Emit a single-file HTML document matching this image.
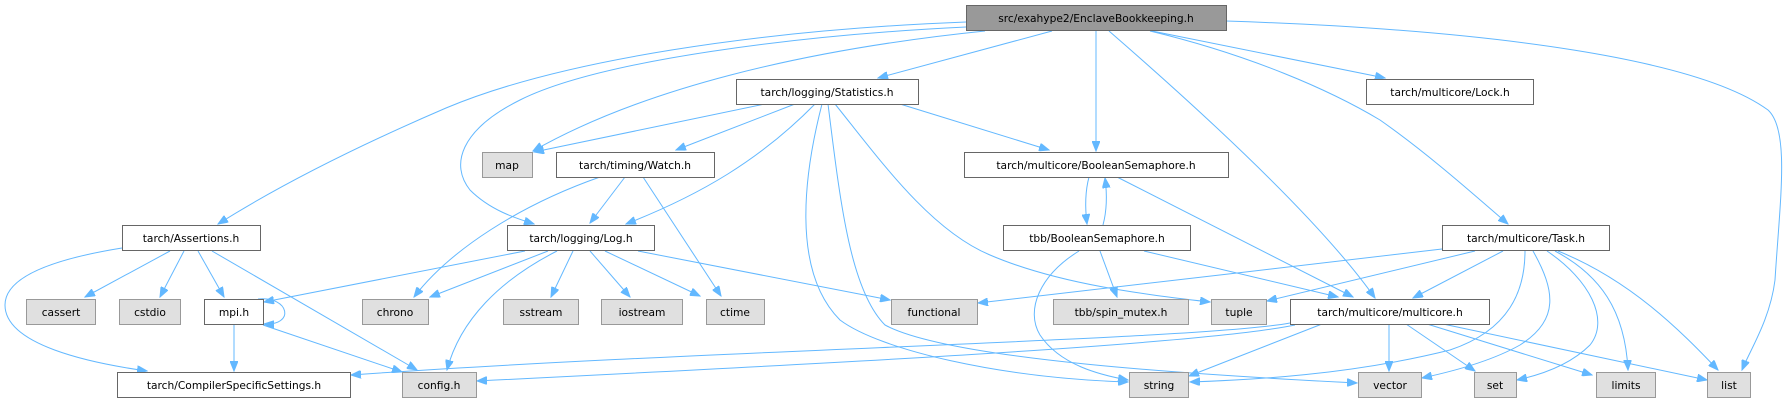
<!DOCTYPE html>
<html><head><meta charset="utf-8"><style>
html,body{margin:0;padding:0;background:#fff;}
svg{display:block;}
text{font-family:"DejaVu Sans","Liberation Sans",sans-serif;font-size:10.67px;fill:#000;text-anchor:middle;}
.e{fill:none;stroke:#63b8ff;stroke-width:1;marker-end:url(#a);}
.w{fill:#fff;stroke:#666;stroke-width:1;}
.g{fill:#e0e0e0;stroke:#999;stroke-width:1;}
.r{fill:#999;stroke:#666;stroke-width:1;}
</style></head><body>
<svg width="1784" height="403" viewBox="0 0 1784 403" xmlns="http://www.w3.org/2000/svg">
<defs><marker id="a" markerWidth="11" markerHeight="8" refX="10" refY="4" orient="auto" markerUnits="userSpaceOnUse"><path d="M0,0 L10,4 L0,8 z" fill="#63b8ff" stroke="#63b8ff"/></marker></defs>
<!-- edges -->
<path class="e" d="M966,22 C760,30 560,60 446,108 C360,145 280,185 218,224"/>
<path class="e" d="M966,27 C800,35 600,60 520,100 C460,130 450,165 470,190 C490,210 515,218 534,224"/>
<path class="e" d="M985,31 C800,50 640,90 533,151"/>
<path class="e" d="M1052,31 L878,78"/>
<path class="e" d="M1096,31 L1096,151"/>
<path class="e" d="M1109,31 C1200,110 1320,220 1375,298"/>
<path class="e" d="M1152,31 L1385,78"/>
<path class="e" d="M1150,31 C1250,55 1330,90 1380,120 C1430,155 1480,200 1508,224"/>
<path class="e" d="M1226,21 C1500,30 1700,60 1768,110 C1790,130 1780,200 1775,280 C1770,320 1750,350 1742,370"/>
<path class="e" d="M765,104 L534,152"/>
<path class="e" d="M795,104 L676,150"/>
<path class="e" d="M815,104 C760,160 700,195 626,224"/>
<path class="e" d="M822,104 C805,170 790,270 840,320 C880,350 1000,378 1128,382"/>
<path class="e" d="M828,104 C840,200 850,290 885,325 C950,360 1200,375 1357,383"/>
<path class="e" d="M835,104 C880,160 930,230 990,255 C1060,285 1150,295 1210,302"/>
<path class="e" d="M900,104 L1049,150"/>
<path class="e" d="M625,177 L590,223"/>
<path class="e" d="M600,177 C520,205 450,250 414,297"/>
<path class="e" d="M643,177 L721,296"/>
<path class="e" d="M1089,177 C1085,192 1085,208 1087,224"/>
<path class="e" d="M1103,225 C1107,210 1107,193 1105,178"/>
<path class="e" d="M1117,177 L1353,297"/>
<path class="e" d="M1079,251 C1040,275 1025,310 1040,335 C1060,365 1100,375 1128,380"/>
<path class="e" d="M1100,251 L1117,297"/>
<path class="e" d="M1144,251 L1338,297"/>
<path class="e" d="M525,251 L264,302"/>
<path class="e" d="M548,251 L430,297"/>
<path class="e" d="M557,251 C500,280 460,320 447,370"/>
<path class="e" d="M573,251 L551,297"/>
<path class="e" d="M590,251 L630,297"/>
<path class="e" d="M605,251 L700,296"/>
<path class="e" d="M638,251 L890,300"/>
<path class="e" d="M122,248 C60,258 5,275 5,305 C5,345 90,363 147,371"/>
<path class="e" d="M170,251 L85,297"/>
<path class="e" d="M184,251 L160,297"/>
<path class="e" d="M198,251 L224,297"/>
<path class="e" d="M212,251 L417,370"/>
<path class="e" d="M258,299 C290,296 295,326 264,324"/>
<path class="e" d="M234,324 L234,371"/>
<path class="e" d="M263,325 L402,372"/>
<path class="e" d="M1290,323 C1200,340 700,350 351,375"/>
<path class="e" d="M1295,325 C1200,345 800,365 477,381"/>
<path class="e" d="M1322,324 L1189,376"/>
<path class="e" d="M1389,324 L1389,371"/>
<path class="e" d="M1406,324 L1475,371"/>
<path class="e" d="M1427,324 L1592,375"/>
<path class="e" d="M1443,324 L1707,380"/>
<path class="e" d="M1442,249 C1300,265 1100,290 978,303"/>
<path class="e" d="M1475,251 L1267,301"/>
<path class="e" d="M1503,251 L1413,298"/>
<path class="e" d="M1525,251 C1525,290 1510,330 1450,350 C1350,375 1250,380 1190,382"/>
<path class="e" d="M1533,251 C1555,290 1560,320 1520,345 C1490,362 1450,372 1422,378"/>
<path class="e" d="M1547,251 C1590,280 1610,320 1590,345 C1570,365 1540,375 1517,380"/>
<path class="e" d="M1555,251 C1600,275 1625,310 1628,370"/>
<path class="e" d="M1558,251 C1630,280 1680,330 1718,370"/>
<!-- nodes -->
<rect class="r" x="966.5" y="5.5" width="260" height="25"/><text x="1096" y="22">src/exahype2/EnclaveBookkeeping.h</text>
<rect class="w" x="736.5" y="79.5" width="182" height="25"/><text x="827" y="96">tarch/logging/Statistics.h</text>
<rect class="w" x="1366.5" y="79.5" width="167" height="25"/><text x="1450" y="96">tarch/multicore/Lock.h</text>
<rect class="g" x="482.5" y="152.5" width="50" height="25"/><text x="507" y="169">map</text>
<rect class="w" x="556.5" y="152.5" width="158" height="25"/><text x="635" y="169">tarch/timing/Watch.h</text>
<rect class="w" x="964.5" y="152.5" width="264" height="25"/><text x="1096" y="169">tarch/multicore/BooleanSemaphore.h</text>
<rect class="w" x="122.5" y="225.5" width="138" height="25"/><text x="191" y="242">tarch/Assertions.h</text>
<rect class="w" x="507.5" y="225.5" width="147" height="25"/><text x="581" y="242">tarch/logging/Log.h</text>
<rect class="w" x="1003.5" y="225.5" width="187" height="25"/><text x="1097" y="242">tbb/BooleanSemaphore.h</text>
<rect class="w" x="1442.5" y="225.5" width="167" height="25"/><text x="1526" y="242">tarch/multicore/Task.h</text>
<rect class="g" x="26.5" y="299.5" width="69" height="25"/><text x="61" y="316">cassert</text>
<rect class="g" x="119.5" y="299.5" width="61" height="25"/><text x="150" y="316">cstdio</text>
<rect class="w" x="204.5" y="299.5" width="59" height="25"/><text x="234" y="316">mpi.h</text>
<rect class="g" x="362.5" y="299.5" width="66" height="25"/><text x="395" y="316">chrono</text>
<rect class="g" x="503.5" y="299.5" width="75" height="25"/><text x="541" y="316">sstream</text>
<rect class="g" x="601.5" y="299.5" width="81" height="25"/><text x="642" y="316">iostream</text>
<rect class="g" x="706.5" y="299.5" width="58" height="25"/><text x="735" y="316">ctime</text>
<rect class="g" x="891.5" y="299.5" width="86" height="25"/><text x="934" y="316">functional</text>
<rect class="g" x="1053.5" y="299.5" width="135" height="25"/><text x="1121" y="316">tbb/spin_mutex.h</text>
<rect class="g" x="1211.5" y="299.5" width="55" height="25"/><text x="1239" y="316">tuple</text>
<rect class="w" x="1290.5" y="299.5" width="199" height="25"/><text x="1390" y="316">tarch/multicore/multicore.h</text>
<rect class="w" x="117.5" y="372.5" width="233" height="25"/><text x="234" y="389">tarch/CompilerSpecificSettings.h</text>
<rect class="g" x="402.5" y="372.5" width="74" height="25"/><text x="439" y="389">config.h</text>
<rect class="g" x="1129.5" y="372.5" width="59" height="25"/><text x="1159" y="389">string</text>
<rect class="g" x="1358.5" y="372.5" width="63" height="25"/><text x="1390" y="389">vector</text>
<rect class="g" x="1474.5" y="372.5" width="42" height="25"/><text x="1495" y="389">set</text>
<rect class="g" x="1596.5" y="372.5" width="59" height="25"/><text x="1626" y="389">limits</text>
<rect class="g" x="1707.5" y="372.5" width="43" height="25"/><text x="1729" y="389">list</text>
</svg>
</body></html>
